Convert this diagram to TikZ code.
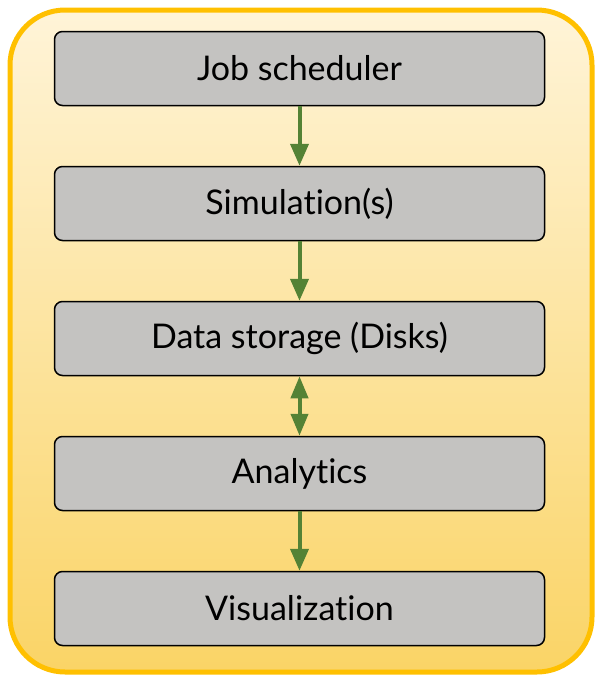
\documentclass[tikz,border=0pt]{standalone}
\usepackage{fontspec}
\setmainfont{Lato}[Ligatures=NoCommon]
\usetikzlibrary{arrows.meta, positioning}
\definecolor{frame}{HTML}{FFC000}
\definecolor{paletop}{HTML}{FFF4D8}
\definecolor{palebottom}{HTML}{FAD466}
\definecolor{stage}{HTML}{C4C3C1}
\definecolor{flow}{HTML}{548235}
\tikzset{
  stagebox/.style={
    rectangle, rounded corners=8pt,
    draw=black, fill=stage, line width=1.5pt,
    minimum width=490pt, minimum height=74pt,
    font=\fontsize{34}{38}\selectfont
  },
  arrow/.style={-{Triangle[length=22pt,width=18pt]}, line width=4pt, draw=flow},
  twoway/.style={{Triangle[length=22pt,width=17pt]}-{Triangle[length=22pt,width=17pt]}, line width=4pt, draw=flow},
}

\begin{document}
\begin{tikzpicture}[x=1pt, y=-1pt, node distance=59.5pt]
  \useasboundingbox (0,0) rectangle (596,675);
  % outer frame
  \shade[top color=paletop, bottom color=palebottom, rounded corners=55pt]
    (10,10) rectangle (592,672);
  \draw[frame, line width=5pt, rounded corners=55pt] (10,10) rectangle (592,672);

  \node[stagebox] (sched) at (299.5,68.5) {Job scheduler};
  \node[stagebox, below=of sched] (sim) {Simulation(s)};
  \node[stagebox, below=of sim] (disk) {Data storage (Disks)};
  \node[stagebox, below=of disk] (ana) {Analytics};
  \node[stagebox, below=of ana] (vis) {Visualization};

  \foreach \from/\to in {sched/sim, sim/disk, ana/vis}
    \draw[arrow] (\from) -- (\to);
  \draw[twoway] (disk) -- (ana);
\end{tikzpicture}
\end{document}
